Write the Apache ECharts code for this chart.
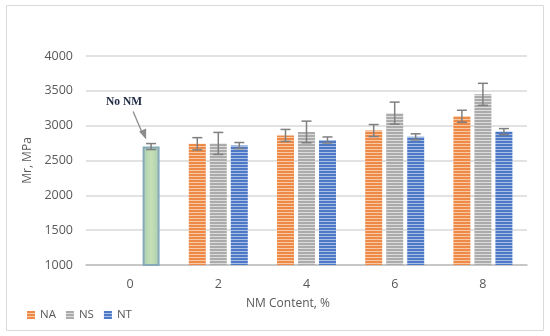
<!DOCTYPE html>
<html><head><meta charset="utf-8">
<script src="https://cdn.jsdelivr.net/npm/echarts@6/dist/echarts.min.js"></script>
<style>html,body{margin:0;padding:0;background:#fff}#c{width:550px;height:336px}</style>
</head><body><div id="c"></div>
<script>
var categories = ['0', '2', '4', '6', '8'];
var seriesNames = ['NA', 'NS', 'NT'];
var naValues = [null, 2740, 2860, 2930, 3135];
var nsValues = [null, 2745, 2910, 3180, 3450];
var ntValues = [2700, 2715, 2795, 2840, 2915];
var naErr = [null, 88, 86, 86, 86];
var nsErr = [null, 158, 155, 158, 158];
var ntErr = [43, 43, 43, 43, 43];
var yTicks = [1000, 1500, 2000, 2500, 3000, 3500, 4000];
var controlLabel = 'No NM';

function stripe(c1, c2) {
  var cv = document.createElement('canvas');
  cv.width = 4; cv.height = 3;
  var ctx = cv.getContext('2d');
  ctx.fillStyle = c1; ctx.fillRect(0, 0, 4, 2);
  ctx.fillStyle = c2; ctx.fillRect(0, 2, 4, 1);
  return {image: cv, repeat: 'repeat'};
}
var patterns = [stripe('#EE8A47', '#F9C9A6'), stripe('#ABABAB', '#DCDCDC'), stripe('#4D78C6', '#A9BFE6')];
var values = [naValues, nsValues, ntValues];
var errs = [naErr, nsErr, ntErr];
var BAR_W = 17, GAP = 4;
var FONT = 'Open Sans, Liberation Sans, sans-serif';

var chart = echarts.init(document.getElementById('c'));
var series = [];
for (var i = 0; i < 3; i++) {
  var data = values[i].map(function (v, k) {
    if (i === 2 && k === 0) {
      return {value: v, itemStyle: {color: {type: 'linear', x: 0, y: 0, x2: 1, y2: 0, colorStops: [
        {offset: 0, color: '#A9CDB0'}, {offset: 0.5, color: '#C6E0B6'}, {offset: 1, color: '#A9CDB0'}]},
        borderColor: '#86A9BA', borderWidth: 2}};
    }
    return v;
  });
  series.push({
    name: seriesNames[i], type: 'bar', data: data, barWidth: BAR_W, barGap: (GAP / BAR_W * 100) + '%',
    itemStyle: {color: patterns[i]}, emphasis: {disabled: true}, z: 2
  });
}
for (var j = 0; j < 3; j++) {
  (function (idx) {
    var d = [];
    values[idx].forEach(function (v, k) {
      if (v != null) d.push([k, v, errs[idx][k]]);
    });
    series.push({
      type: 'custom', name: 'err' + idx, data: d, z: 5, silent: true,
      renderItem: function (params, api) {
        var k = api.value(0), v = api.value(1), e = api.value(2);
        var off = (idx - 1) * (BAR_W + GAP);
        var hi = api.coord([k, v + e]), lo = api.coord([k, v - e]);
        var x = hi[0] + off;
        var st = {stroke: '#7F7F7F', lineWidth: 1.5};
        var ch = [
          {type: 'line', shape: {x1: x, y1: hi[1], x2: x, y2: lo[1]}, style: st},
          {type: 'line', shape: {x1: x - 5, y1: hi[1], x2: x + 5, y2: hi[1]}, style: st},
          {type: 'line', shape: {x1: x - 5, y1: lo[1], x2: x + 5, y2: lo[1]}, style: st}
        ];
        if (idx === 2 && k === 0) {
          var bx = x, by = hi[1];
          ch.push(
            {type: 'text', x: bx - 27, y: by - 42, style: {text: controlLabel, fill: '#1F2A44', font: 'bold 11.5px "Liberation Serif", "DejaVu Serif", serif', textAlign: 'center', textVerticalAlign: 'middle'}},
            {type: 'line', shape: {x1: bx - 18, y1: by - 32, x2: bx - 9, y2: by - 11}, style: {stroke: '#8C8C8C', lineWidth: 1.3}},
            {type: 'polygon', shape: {points: [[bx - 5, by - 4], [bx - 12, by - 12], [bx - 5, by - 15]]}, style: {fill: '#8C8C8C'}}
          );
        }
        return {type: 'group', children: ch};
      }
    });
  })(j);
}

chart.setOption({
  animation: false,
  grid: {left: 86, right: 23, top: 56, bottom: 71},
  legend: {
    data: seriesNames, left: 22, top: 304, itemWidth: 8, itemHeight: 8, itemGap: 10,
    icon: 'rect',
    textStyle: {color: '#595959', fontSize: 11.5, fontFamily: FONT}
  },
  xAxis: {
    type: 'category', data: categories,
    axisLine: {lineStyle: {color: '#BFBFBF', width: 1.5}},
    axisTick: {show: false},
    axisLabel: {color: '#595959', fontSize: 12.5, margin: 13, fontFamily: FONT}
  },
  yAxis: {
    type: 'value', min: yTicks[0], max: yTicks[yTicks.length - 1], interval: yTicks[1] - yTicks[0],
    name: 'Mr, MPa', nameLocation: 'middle', nameGap: 44,
    nameTextStyle: {color: '#595959', fontSize: 12, fontFamily: FONT},
    axisLine: {show: false}, axisTick: {show: false},
    axisLabel: {color: '#595959', fontSize: 12.5, margin: 13, fontFamily: FONT, formatter: function (v) { return String(v); }},
    splitLine: {lineStyle: {color: '#D9D9D9', width: 1.5}}
  },
  graphic: [
    {type: 'rect', shape: {x: 6.5, y: 5.5, width: 537, height: 325}, style: {fill: 'none', stroke: '#D9D9D9', lineWidth: 1}, z: 0, silent: true},
    {type: 'text', x: 288, y: 304, style: {text: 'NM Content, %', fill: '#595959', font: '12px "Open Sans", "Liberation Sans", sans-serif', textAlign: 'center', textVerticalAlign: 'middle'}}
  ],
  series: series
});
</script></body></html>
